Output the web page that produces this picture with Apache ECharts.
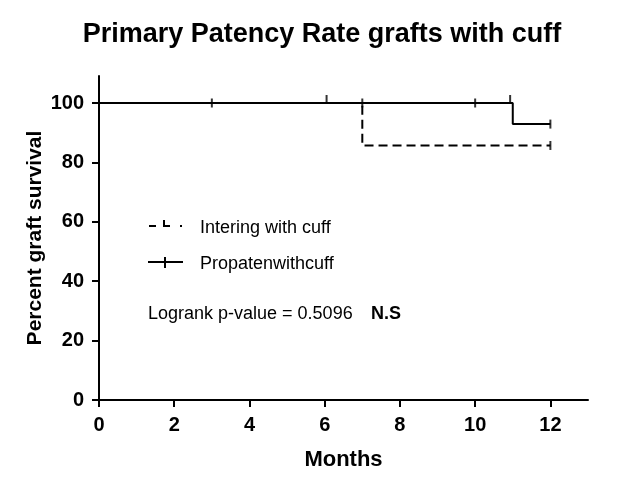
<!DOCTYPE html>
<html>
<head>
<meta charset="utf-8">
<script src="https://cdn.jsdelivr.net/npm/echarts@6/dist/echarts.min.js"></script>
<style>html,body{margin:0;padding:0;background:#fff}#c{width:644px;height:478px}</style>
</head>
<body>
<div id="c"></div>
<script>
// Kaplan-Meier step points (months, percent survival)
const dashedTimes = [0, 7, 12];
const dashedSurv = [100, 85.7, 85.7];
const solidTimes = [0, 11, 12];
const solidSurv = [100, 92.9, 92.9];
// censor ticks
const solidCensorTimes = [3, 7, 10, 12];
const solidCensorSurv = [100, 100, 100, 92.9];
const halfCensorTimes = [6.05, 10.93];
const halfCensorSurv = [100, 100];
const dashedCensorTimes = [12];
const dashedCensorSurv = [85.7];
const xTicks = [0, 2, 4, 6, 8, 10, 12];
const yTicks = [0, 20, 40, 60, 80, 100];
const seriesNames = ['Intering with cuff', 'Propatenwithcuff'];

const zip = (a, b) => a.map((v, i) => [v, b[i]]);
const FONT = "'Liberation Sans', Arial, sans-serif";

const chart = echarts.init(document.getElementById('c'), null, {renderer: 'canvas'});
const axisCommon = {
  axisLine: {show: true, onZero: false, lineStyle: {color: '#000', width: 2}},
  axisTick: {show: true, length: 7, lineStyle: {color: '#000', width: 2}},
  splitLine: {show: false}
};
chart.setOption({
  animation: false,
  backgroundColor: '#fff',
  title: {
    text: 'Primary Patency Rate grafts with cuff',
    left: 'center', top: 16,
    textStyle: {fontFamily: FONT, fontWeight: 'bold', fontSize: 27, color: '#000'}
  },
  grid: {left: 99, right: 56, top: 76, bottom: 78, containLabel: false},
  xAxis: Object.assign({}, axisCommon, {
    type: 'value', min: 0, max: 13,
    name: 'Months', nameLocation: 'middle', nameGap: 49, nameMoveOverlap: false,
    nameTextStyle: {fontFamily: FONT, fontWeight: 'bold', fontSize: 22, color: '#000'},
    axisTick: Object.assign({}, axisCommon.axisTick, {customValues: xTicks}),
    axisLabel: {customValues: xTicks, margin: 15, fontFamily: FONT, fontWeight: 'bold', fontSize: 20, color: '#000'}
  }),
  yAxis: Object.assign({}, axisCommon, {
    type: 'value', min: 0, max: 100 * 324 / 297,
    name: 'Percent graft survival', nameLocation: 'middle', nameGap: 53, nameRotate: 90, nameMoveOverlap: false,
    nameTextStyle: {fontFamily: FONT, fontWeight: 'bold', fontSize: 21, color: '#000'},
    axisTick: Object.assign({}, axisCommon.axisTick, {customValues: yTicks}),
    axisLabel: {customValues: yTicks, margin: 15, fontFamily: FONT, fontWeight: 'bold', fontSize: 20, color: '#000'}
  }),
  series: [
    {
      name: seriesNames[0], type: 'line', step: 'end', showSymbol: false,
      data: zip(dashedTimes, dashedSurv),
      lineStyle: {color: '#000', width: 2, type: [9, 5]}, z: 2
    },
    {
      name: seriesNames[1], type: 'line', step: 'end', showSymbol: false,
      data: zip(solidTimes, solidSurv),
      lineStyle: {color: '#000', width: 2, type: 'solid'}, z: 3
    },
    {
      type: 'scatter', data: zip(solidCensorTimes, solidCensorSurv),
      symbol: 'rect', symbolSize: [2, 9], itemStyle: {color: '#000'}, z: 4
    },
    {
      type: 'scatter', data: zip(halfCensorTimes, halfCensorSurv),
      symbol: 'rect', symbolSize: [2, 8], symbolOffset: [0, -4], itemStyle: {color: '#000'}, z: 4
    },
    {
      type: 'scatter', data: zip(dashedCensorTimes, dashedCensorSurv),
      symbol: 'rect', symbolSize: [2, 9], itemStyle: {color: '#000'}, z: 4
    }
  ],
  graphic: [
    // legend item 1 (dashed)
    {type: 'line', shape: {x1: 149, y1: 226, x2: 156, y2: 226}, style: {stroke: '#000', lineWidth: 2}},
    {type: 'line', shape: {x1: 164, y1: 226, x2: 170, y2: 226}, style: {stroke: '#000', lineWidth: 2}},
    {type: 'line', shape: {x1: 164, y1: 220, x2: 164, y2: 227}, style: {stroke: '#000', lineWidth: 2}},
    {type: 'rect', shape: {x: 180, y: 225, width: 2, height: 2}, style: {fill: '#000'}},
    {type: 'text', x: 200, y: 228, style: {text: seriesNames[0], font: '18px ' + FONT, fill: '#000', verticalAlign: 'middle'}},
    // legend item 2 (solid)
    {type: 'line', shape: {x1: 148, y1: 262, x2: 183, y2: 262}, style: {stroke: '#000', lineWidth: 2}},
    {type: 'line', shape: {x1: 165, y1: 257, x2: 165, y2: 268}, style: {stroke: '#000', lineWidth: 2}},
    {type: 'text', x: 200, y: 264, style: {text: seriesNames[1], font: '18px ' + FONT, fill: '#000', verticalAlign: 'middle'}},
    // annotation
    {type: 'text', x: 148, y: 314, style: {text: 'Logrank p-value = 0.5096', font: '18px ' + FONT, fill: '#000', verticalAlign: 'middle'}},
    {type: 'text', x: 371, y: 314, style: {text: 'N.S', font: 'bold 18px ' + FONT, fill: '#000', verticalAlign: 'middle'}}
  ]
});
</script>
</body>
</html>
